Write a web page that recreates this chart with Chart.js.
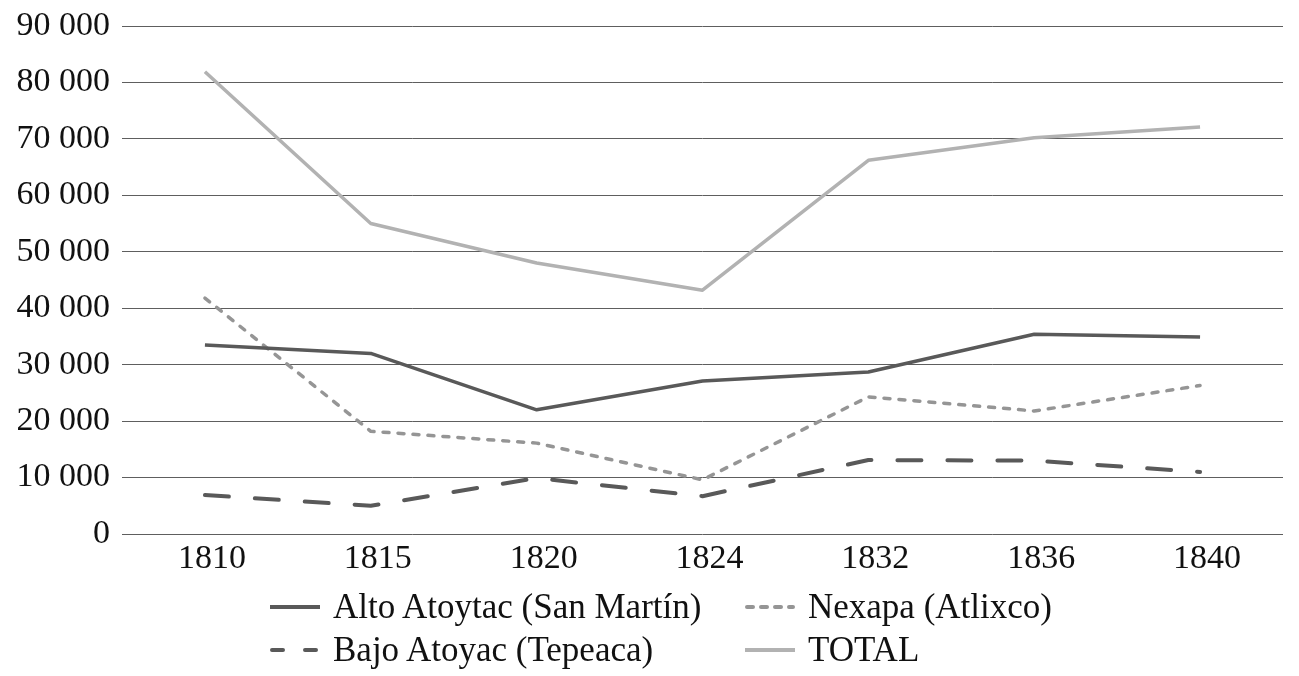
<!DOCTYPE html>
<html>
<head>
<meta charset="utf-8">
<script src="https://cdn.jsdelivr.net/npm/chart.js@4/dist/chart.umd.min.js"></script>
<style>
  html, body { margin: 0; padding: 0; background: #fff; }
  #wrap { position: relative; width: 1299px; height: 676px; }
  canvas { display: block; }
  .leg { position: absolute; font-family: "Liberation Serif", serif; font-size: 35px; color: #111; white-space: nowrap; line-height: 1; }
  .leg svg { position: absolute; left: 0; top: 50%; transform: translateY(-50%); }
  .leg span { position: absolute; left: 63px; top: 50%; transform: translateY(-52%); }
</style>
</head>
<body>
<div id="wrap">
  <canvas id="c" width="1299" height="676"></canvas>
</div>
<script>
const categories = ['1810', '1815', '1820', '1824', '1832', '1836', '1840'];
const altoAtoytac = [33500, 32000, 22000, 27100, 28700, 35400, 34900];
const nexapa = [41800, 18200, 16100, 9600, 24300, 21800, 26300];
const bajoAtoyac = [6900, 5000, 9900, 6700, 13100, 13000, 11000];
const total = [81900, 55000, 48000, 43200, 66200, 70200, 72100];
const yTickLabels = ['0', '10 000', '20 000', '30 000', '40 000', '50 000', '60 000', '70 000', '80 000', '90 000'];
const seriesNames = ['Alto Atoytac (San Martín)', 'Nexapa (Atlixco)', 'Bajo Atoyac (Tepeaca)', 'TOTAL'];

const FONT = '"Liberation Serif", serif';
const styles = [
  { color: '#595959', dash: [], width: 3.5 },
  { color: '#959595', dash: [6, 9], width: 3.5 },
  { color: '#595959', dash: [24, 26], width: 4 },
  { color: '#b2b2b2', dash: [], width: 3.5 }
];
const seriesData = [altoAtoytac, nexapa, bajoAtoyac, total];

new Chart(document.getElementById('c'), {
  type: 'line',
  data: {
    labels: categories,
    datasets: seriesData.map((d, i) => ({
      label: seriesNames[i],
      data: d,
      borderColor: styles[i].color,
      borderWidth: styles[i].width,
      borderDash: styles[i].dash,
      borderCapStyle: styles[i].dash.length ? 'round' : 'butt',
      borderJoinStyle: 'round',
      pointRadius: 0,
      tension: 0,
      fill: false
    }))
  },
  options: {
    responsive: false,
    animation: false,
    layout: { padding: { left: 0, right: 16, top: 26, bottom: 100 } },
    plugins: { legend: { display: false }, tooltip: { enabled: false } },
    scales: {
      x: {
        offset: true,
        grid: { display: false, drawTicks: false },
        border: { display: false },
        ticks: { font: { family: FONT, size: 34 }, color: '#111', padding: 5, labelOffset: 7, maxRotation: 0 },
        afterFit: s => { s.height = 42; s.paddingLeft = 0; s.paddingRight = 0; }
      },
      y: {
        min: 0, max: 90000,
        ticks: {
          stepSize: 10000,
          font: { family: FONT, size: 34 },
          color: '#111',
          padding: 12,
          callback: (v) => yTickLabels[Math.round(v / 10000)]
        },
        grid: { color: '#5e5e5e', lineWidth: 1, drawTicks: false },
        border: { display: false },
        afterFit: s => { s.width = 122; s.paddingTop = 0; s.paddingBottom = 0; }
      }
    }
  }
});

// HTML legend (two aligned columns)
const wrap = document.getElementById('wrap');
const legPos = [
  { x: 270, y: 607 }, { x: 745, y: 607 },
  { x: 270, y: 650 }, { x: 745, y: 650 }
];
seriesNames.forEach((name, i) => {
  const st = styles[i];
  const div = document.createElement('div');
  div.className = 'leg';
  div.style.left = legPos[i].x + 'px';
  div.style.top = (legPos[i].y - 20) + 'px';
  div.style.height = '40px';
  div.style.width = '480px';
  let dashAttr = '';
  let cap = 'butt';
  if (i === 1) { dashAttr = 'stroke-dasharray="6 8"'; cap = 'round'; }
  if (i === 2) { dashAttr = 'stroke-dasharray="11 22"'; cap = 'round'; }
  const x1 = (i === 1 || i === 2) ? 2 : 0;
  const x2 = (i === 1 || i === 2) ? 48 : 50;
  div.innerHTML = '<svg width="50" height="8"><line x1="' + x1 + '" y1="4" x2="' + x2 + '" y2="4" stroke="' + st.color +
    '" stroke-width="4" stroke-linecap="' + cap + '" ' + dashAttr + '/></svg><span></span>';
  div.querySelector('span').textContent = name;
  wrap.appendChild(div);
});
</script>
</body>
</html>
